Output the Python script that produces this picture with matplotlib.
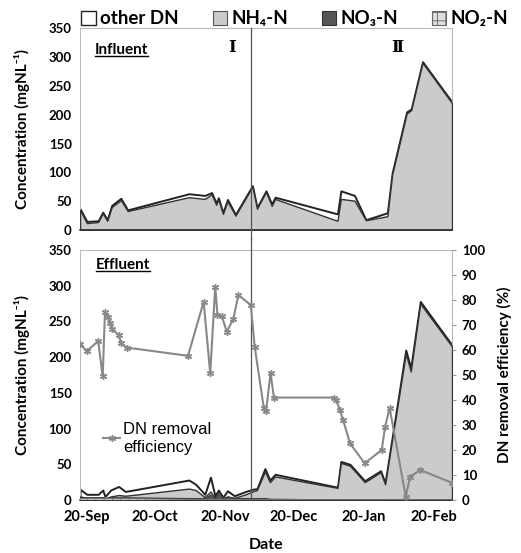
import numpy as np
import pandas as pd
import matplotlib
matplotlib.use("Agg")
import matplotlib.pyplot as plt
import matplotlib.dates as mdates
from matplotlib.patches import Patch
from matplotlib.lines import Line2D

START = pd.Timestamp("2012-09-20")  # day 0 of the series

# Influent (days since 20-Sep, mgN/L)
inf_day = [-3, 0, 5, 7, 9, 11, 15, 18, 45, 52, 55, 57, 58, 60, 62, 65.5,
           73, 75, 79, 81.5, 83, 110.5, 112, 118, 123, 132.5, 134.6, 141,
           143, 148, 161]
inf_total = [37, 15, 16, 31, 18, 43, 55, 35, 63, 60, 65, 47, 56, 30, 53, 27,
             77, 39, 68, 45, 57, 28, 68, 60, 18, 30, 99, 205, 210, 292, 222]
inf_nh4 = [35, 12, 14, 29, 16, 40, 52, 33, 57, 54, 62, 44, 53, 28, 50, 25,
           75, 37, 66, 42, 54, 16, 54, 51, 17, 24, 96, 202, 208, 290, 220]
inf_no3 = [1] * len(inf_day)
inf_no2 = [0.5] * len(inf_day)

# Effluent (days since 20-Sep, mgN/L)
eff_day = [-3, 0, 5, 7, 8, 10.5, 14, 17, 45, 48, 52, 54.5, 56.5, 58, 60, 62,
           65, 70, 73, 75, 78.5, 80.7, 83, 110.5, 112, 116, 122.5, 129.5,
           131.5, 140.6, 142.8, 147, 161]
eff_total = [15, 8, 8, 14, 5, 14, 19, 12, 28, 22, 8, 32, 6, 14, 4, 13,
             6, 12, 15, 16, 44, 28, 36, 18, 54, 50, 27, 41, 24, 210, 185,
             278, 217]
eff_nh4 = [5, 3, 3, 4, 2, 5, 7, 6, 16, 14, 4, 12, 3, 6, 2, 5,
           3, 8, 12, 14, 40, 25, 33, 17, 52, 48, 25, 39, 22, 205, 180,
           275, 215]
eff_no3 = [4, 4, 4, 4, 3, 4, 4, 4, 3, 3, 3, 8, 3, 12, 3, 5,
           3, 3, 3, 3, 3, 2, 2, 1, 1, 1, 1, 1, 1, 0.5, 0.5, 1.5, 1.5]
eff_no2 = [2, 2, 2, 2, 2, 2, 2, 2, 1, 1, 1, 1, 1, 1, 1, 1,
           1, 1, 1, 1, 1, 1, 1, 0.5, 0.5, 0.5, 0.5, 0.5, 0.5, 0.5, 0.5,
           0.5, 0.5]

# DN removal efficiency (%)
eff_pct_day = [-3, 0, 5, 7, 8, 9.4, 10.2, 11, 14, 15.2, 17.5, 44.6, 51.5,
               54.4, 56.6, 57.6, 59.5, 61.7, 64.6, 66.8, 72.3, 74, 78, 79,
               81, 82.5, 109, 110, 111.5, 113, 116, 122.5, 130, 131.5, 133.5,
               140.6, 142.5, 147, 161]
eff_pct = [62.3, 59.6, 63.6, 49.5, 75.3, 73.3, 70.7, 68.5, 66, 62.7, 61,
           57.7, 79.3, 50.7, 85.3, 74, 73.6, 67.3, 72.5, 82, 78, 61.3, 37,
           35.5, 50.7, 41, 41, 40, 36, 32, 22.7, 14.7, 20, 29.3, 36.8, 1.3,
           9.3, 12, 6.9]

tick_days = [0, 30, 61, 91, 122, 153]
phase_split_day = 72.5

NH4_COLOR = "#cbcbcb"
NO3_COLOR = "#555555"


def to_dates(days):
    return mdates.date2num(START) + np.asarray(days, dtype=float)


plt.rcParams["font.family"] = ["Lato", "DejaVu Sans"]
plt.rcParams["font.weight"] = "bold"
plt.rcParams["hatch.color"] = "#888888"
plt.rcParams["hatch.linewidth"] = 0.6

fig = plt.figure(figsize=(5.21, 5.53), dpi=100)
ax_in = fig.add_axes([0.1536, 0.584, 0.714, 0.365])
ax_ef = fig.add_axes([0.1536, 0.0958, 0.714, 0.452])
ax_r = ax_ef.twinx()


def draw_species(ax, day, total, nh4, no3, no2):
    x = to_dates(day)
    ax.fill_between(x, 0, total, facecolor="white", edgecolor="#222222",
                    linewidth=1.4, zorder=2)
    ax.fill_between(x, 0, nh4, facecolor=NH4_COLOR, edgecolor="#333333",
                    linewidth=1.0, zorder=3)
    ax.fill_between(x, 0, no3, facecolor=NO3_COLOR, edgecolor="#333333",
                    linewidth=0.6, zorder=4)
    ax.fill_between(x, 0, no2, facecolor="#dddddd", hatch="++",
                    edgecolor="#666666", linewidth=0.4, zorder=5)


draw_species(ax_in, inf_day, inf_total, inf_nh4, inf_no3, inf_no2)
draw_species(ax_ef, eff_day, eff_total, eff_nh4, eff_no3, eff_no2)

xlim = to_dates([min(inf_day), max(inf_day)])
for ax in (ax_in, ax_ef):
    ax.set_xlim(*xlim)
    ax.set_ylim(0, 350)
    ax.set_yticks(range(0, 351, 50))
    ax.tick_params(axis="y", length=0, labelsize=9.5, pad=6)
    for side in ("top", "right", "left"):
        ax.spines[side].set_color("#bbbbbb")
    ax.spines["bottom"].set_color("#444444")
    ax.spines["bottom"].set_linewidth(1.2)
    ax.set_ylabel("Concentration (mgNL⁻¹)", fontsize=11, fontweight="bold")
    ax.yaxis.set_label_coords(-0.135, 0.5)
    ax.set_xticks(to_dates(tick_days))
    ax.xaxis.set_major_formatter(mdates.DateFormatter("%d-%b"))
    ax.tick_params(axis="x", length=0, labelsize=10.5, pad=7)

ax_in.tick_params(axis="x", labelbottom=False)
ax_ef.set_xlabel("Date", fontsize=11.5, fontweight="bold", labelpad=10)

# phase split line running through both panels
split_x = to_dates([phase_split_day])[0]
ax_in.axvline(split_x, ymin=-0.05, ymax=1, color="#555555", lw=0.9,
              clip_on=False, zorder=6)
ax_ef.axvline(split_x, ymin=0, ymax=1.05, color="#555555", lw=0.9,
              clip_on=False, zorder=6)

# removal efficiency on the right axis
ax_r.plot(to_dates(eff_pct_day), eff_pct, color="#888888", lw=1.5,
          marker=(6, 2, 0), markersize=5, markeredgewidth=1.0,
          label="DN removal\nefficiency", zorder=7)
ax_r.set_ylim(0, 100)
ax_r.set_yticks(range(0, 101, 10))
ax_r.tick_params(axis="y", length=3, color="#999999", labelsize=9.5, pad=4)
for side in ("top", "right", "left", "bottom"):
    ax_r.spines[side].set_visible(False)
ax_r.set_ylabel("DN removal efficiency (%)", fontsize=11, fontweight="bold")
ax_r.yaxis.set_label_coords(1.12, 0.5)
ax_r.legend(loc="upper left", bbox_to_anchor=(0.04, 0.345), frameon=False,
            handlelength=1.0, handletextpad=0.2, borderpad=0,
            labelspacing=0.1,
            prop={"size": 12, "weight": "normal",
                  "family": ["Liberation Sans", "DejaVu Sans"]})

# panel titles (underlined) and phase labels
t_in = ax_in.text(0.04, 0.89, "Influent", transform=ax_in.transAxes,
                  fontsize=11, fontweight="bold", va="center")
t_ef = ax_ef.text(0.043, 0.94, "Effluent", transform=ax_ef.transAxes,
                  fontsize=11, fontweight="bold", va="center")
ax_in.text(0.41, 0.905, "Ⅰ", transform=ax_in.transAxes, fontsize=12,
           fontweight="bold", ha="center", va="center",
           family=["DejaVu Serif", "DejaVu Sans"])
ax_in.text(0.852, 0.905, "Ⅱ", transform=ax_in.transAxes, fontsize=12,
           fontweight="bold", ha="center", va="center",
           family=["DejaVu Serif", "DejaVu Sans"])

fig.canvas.draw()
for t in (t_in, t_ef):
    bb = t.get_window_extent().transformed(fig.transFigure.inverted())
    fig.add_artist(Line2D([bb.x0, bb.x1], [bb.y0 + 0.002, bb.y0 + 0.002],
                          color="black", lw=1.0, transform=fig.transFigure))

# top legend
handles = [
    Patch(facecolor="white", edgecolor="#222222", linewidth=1.0),
    Patch(facecolor=NH4_COLOR, edgecolor="#555555", linewidth=0.8),
    Patch(facecolor=NO3_COLOR, edgecolor="#333333", linewidth=0.8),
    Patch(facecolor="#dddddd", edgecolor="#666666", hatch="++", linewidth=0.8),
]
labels = ["other DN", "NH₄-N", "NO₃-N", "NO₂-N"]
fig.legend(handles, labels, loc="upper center", bbox_to_anchor=(0.566, 1.012),
           ncol=4, frameon=False, handlelength=0.75, handleheight=0.75,
           handletextpad=0.25, columnspacing=1.8,
           prop={"size": 13.5, "weight": "bold"})

fig.savefig("out.png", dpi=100)
